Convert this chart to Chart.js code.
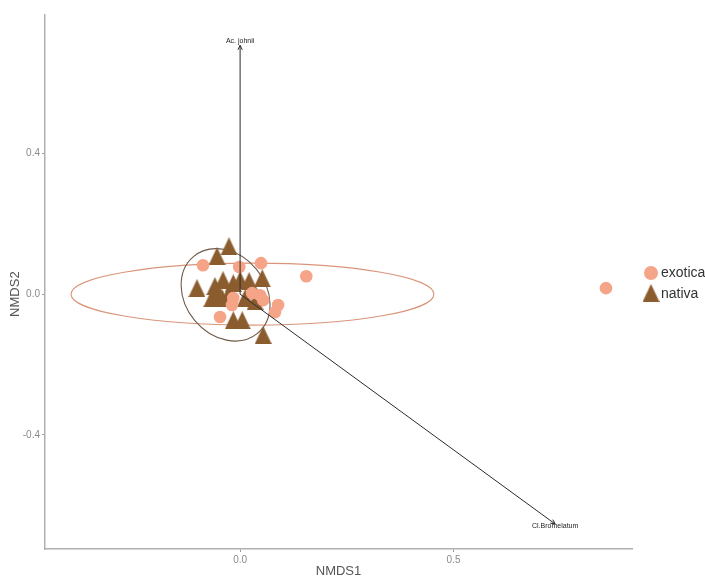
<!DOCTYPE html>
<html><head><meta charset="utf-8">
<script src="https://cdn.jsdelivr.net/npm/chart.js@4"></script>
<style>html,body{margin:0;padding:0;background:#fff}</style>
</head><body>
<canvas id="c" width="705" height="578" style="width:705px;height:578px;display:block"></canvas>
<script>
// ---- data ----
const exoticaX = [-0.087, -0.002, 0.049, 0.155, 0.857, -0.016, -0.019, 0.028, 0.047, 0.054, 0.089, 0.082, -0.047];
const exoticaY = [ 0.082,  0.077, 0.088, 0.051, 0.017, -0.011, -0.031, 0.003, -0.003, -0.017, -0.031, -0.051, -0.065];
const nativaX = [-0.026, -0.054, -0.101, -0.040, -0.059, -0.016, 0.000, 0.021, 0.052, -0.066, -0.042, 0.012, 0.035, -0.016, 0.005, 0.054, -0.028, -0.052];
const nativaY = [ 0.136,  0.108,  0.017,  0.040,  0.023,  0.031, 0.040, 0.037, 0.045, -0.011, -0.011, -0.011, -0.020, -0.074, -0.074, -0.116, -0.003, 0.006];
const groupNames = ['exotica', 'nativa'];
// environmental vectors (arrow end points from origin)
const vecNames = ['Ac. johnii', 'Cl.Bromelatum'];
const vecX = [0.000, 0.738];
const vecY = [0.707, -0.653];
// group ellipses: centre x, centre y, semi-axis a (x units), semi-axis b (y units), rotation (deg)
const ellCx = [0.029, -0.034];
const ellCy = [0.000, -0.002];
const ellA  = [0.425, 0.117];
const ellB  = [0.088, 0.114];
const ellRot = [0, 50];
const xTicks = [0.0, 0.5];
const yTicks = [-0.4, 0.0, 0.4];

const colExotica = '#F5A487';
const colNativa = '#8B5D2E';
const ellColors = ['#D9957A', '#6E5A48'];

const toPts = (xs, ys) => xs.map((x, i) => ({x: x, y: ys[i]}));

// triangle marker image (slightly taller than wide, like the reference)
function triImg(w, h, color) {
  const c = document.createElement('canvas');
  c.width = w; c.height = h;
  const g = c.getContext('2d');
  g.fillStyle = color;
  g.beginPath(); g.moveTo(w / 2, 0); g.lineTo(w, h); g.lineTo(0, h); g.closePath(); g.fill();
  return c;
}
const triMarker = triImg(17, 18, colNativa);

const datasets = [];
vecX.forEach((vx, i) => {
  datasets.push({
    label: 'vec' + i, type: 'line', data: [{x: 0, y: 0}, {x: vx, y: vecY[i]}],
    borderColor: '#2b2b2b', borderWidth: 1, pointRadius: 0, showLine: true, order: 0, fill: false
  });
});
datasets.push({label: groupNames[0], data: toPts(exoticaX, exoticaY), pointStyle: 'circle', pointRadius: 6.3,
  backgroundColor: colExotica, borderColor: colExotica, borderWidth: 0, order: 1});
datasets.push({label: groupNames[1], data: toPts(nativaX, nativaY), pointStyle: triMarker, pointRadius: 9,
  backgroundColor: colNativa, borderColor: colNativa, borderWidth: 0, order: 2});

const FONT = '"Liberation Sans", Arial, sans-serif';

const decor = {
  id: 'decor',
  beforeDatasetsDraw(chart) {
    const ctx = chart.ctx, xs = chart.scales.x, ys = chart.scales.y;
    const pxX = Math.abs(xs.getPixelForValue(1) - xs.getPixelForValue(0));
    const pxY = Math.abs(ys.getPixelForValue(1) - ys.getPixelForValue(0));
    ctx.save();
    ellCx.forEach((cx, i) => {
      ctx.beginPath();
      ctx.ellipse(xs.getPixelForValue(cx), ys.getPixelForValue(ellCy[i]), ellA[i] * pxX, ellB[i] * pxY,
        ellRot[i] * Math.PI / 180, 0, Math.PI * 2);
      ctx.strokeStyle = ellColors[i];
      ctx.lineWidth = 1.1;
      ctx.stroke();
    });
    ctx.restore();
  },
  afterDraw(chart) {
    const ctx = chart.ctx, xs = chart.scales.x, ys = chart.scales.y, a = chart.chartArea;
    ctx.save();
    // arrow heads + labels
    vecX.forEach((vx, i) => {
      const x0 = xs.getPixelForValue(0), y0 = ys.getPixelForValue(0);
      const x1 = xs.getPixelForValue(vx), y1 = ys.getPixelForValue(vecY[i]);
      const ang = Math.atan2(y1 - y0, x1 - x0);
      ctx.strokeStyle = '#2b2b2b'; ctx.lineWidth = 1;
      ctx.beginPath();
      ctx.moveTo(x1 - 5 * Math.cos(ang - 0.45), y1 - 5 * Math.sin(ang - 0.45));
      ctx.lineTo(x1, y1);
      ctx.lineTo(x1 - 5 * Math.cos(ang + 0.45), y1 - 5 * Math.sin(ang + 0.45));
      ctx.stroke();
      ctx.fillStyle = '#222';
      ctx.font = '7px ' + FONT;
      ctx.textAlign = 'center'; ctx.textBaseline = 'middle';
      const dy = vecY[i] > 0 ? -4 : 2;
      ctx.fillText(vecNames[i], x1, y1 + dy);
    });
    // axis titles
    ctx.fillStyle = '#555';
    ctx.font = '13px ' + FONT;
    ctx.textAlign = 'center'; ctx.textBaseline = 'middle';
    ctx.fillText('NMDS1', (a.left + a.right) / 2, 571);
    ctx.save();
    ctx.translate(15, ys.getPixelForValue(0));
    ctx.rotate(-Math.PI / 2);
    ctx.fillText('NMDS2', 0, 0);
    ctx.restore();
    // legend
    const lx = 651, ly0 = 273, ly1 = 293;
    ctx.fillStyle = colExotica;
    ctx.beginPath(); ctx.arc(lx, ly0, 7, 0, Math.PI * 2); ctx.fill();
    ctx.drawImage(triMarker, lx - 8.5, ly1 - 9);
    ctx.fillStyle = '#333';
    ctx.font = '14px ' + FONT;
    ctx.textAlign = 'left';
    ctx.fillText(groupNames[0], 661, ly0);
    ctx.fillText(groupNames[1], 661, ly1 + 1);
    ctx.restore();
  }
};

const axisCommon = {
  type: 'linear',
  grid: {display: true, drawOnChartArea: false, drawTicks: true, tickLength: 3, color: '#9a9a9a', lineWidth: 1},
  border: {display: true, color: '#b0b0b0', width: 1.5},
  ticks: {color: '#8a8a8a', font: {size: 10, family: FONT}, padding: 2, callback: v => Number(v).toFixed(1)}
};

new Chart(document.getElementById('c'), {
  type: 'scatter',
  data: {datasets: datasets},
  options: {
    responsive: false, animation: false, devicePixelRatio: 1,
    layout: {padding: {left: 0, right: 73, top: 15, bottom: 0}},
    plugins: {legend: {display: false}, tooltip: {enabled: false}},
    scales: {
      x: Object.assign({}, axisCommon, {
        min: -0.457, max: 0.918,
        afterBuildTicks: s => { s.ticks = xTicks.map(v => ({value: v})); },
        afterFit: s => { s.height = 29; }
      }),
      y: Object.assign({}, axisCommon, {
        min: -0.724, max: 0.793,
        afterBuildTicks: s => { s.ticks = yTicks.map(v => ({value: v})); },
        afterFit: s => { s.width = 45; }
      })
    }
  },
  plugins: [decor]
});
</script>
</body></html>
